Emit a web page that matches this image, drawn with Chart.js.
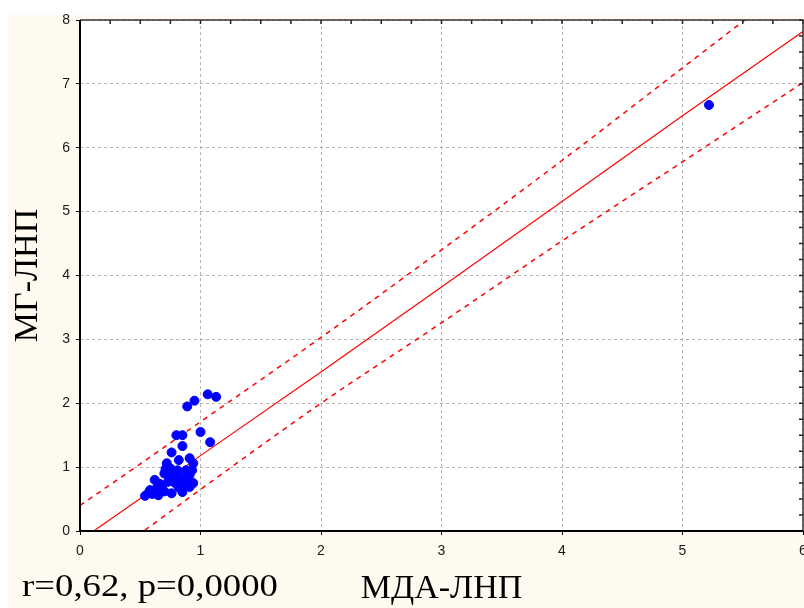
<!DOCTYPE html>
<html>
<head>
<meta charset="utf-8">
<script src="https://cdn.jsdelivr.net/npm/chart.js@4.4.0/dist/chart.umd.min.js"></script>
<style>
    html, body { margin: 0; padding: 0; background: #ffffff; overflow: hidden; }
    #wrap { width: 804px; height: 608px; position: relative; }
</style>
</head>
<body>
<div id="wrap"><canvas id="scatter-chart" width="804" height="608"></canvas></div>
<script>
// МДА-ЛНП (x) and МГ-ЛНП (y) for each case
const mdaValues = [1.06, 1.13, 0.95, 0.89, 1.00, 1.08, 0.80, 0.85, 0.85, 0.76,
                   0.82, 0.91, 0.94, 0.72, 0.81, 0.70, 0.62, 0.91, 0.94, 0.58,
                   0.65, 0.76, 0.85, 0.54, 0.91, 0.79, 0.73, 0.68, 0.85, 0.75,
                   0.78, 0.88, 0.66, 0.60, 0.70, 0.82, 0.89, 0.74, 0.80, 0.63,
                   0.93, 0.86, 0.71, 0.57, 5.22];
const mgValues  = [2.14, 2.10, 2.04, 1.95, 1.55, 1.39, 1.50, 1.50, 1.33, 1.23,
                   1.11, 1.14, 1.06, 1.06, 0.95, 0.90, 0.80, 0.88, 0.75, 0.64,
                   0.56, 0.59, 0.61, 0.55, 0.69, 0.75, 0.77, 0.69, 0.83, 0.98,
                   0.88, 0.95, 0.74, 0.58, 0.62, 0.68, 0.78, 0.84, 0.80, 0.66,
                   0.95, 0.72, 0.97, 0.60, 6.67];

// fitted line and 95% band
const fitX     = [0, 0.5, 1, 2, 3, 4, 5, 6];
const fitLine  = [-0.15, 0.51, 1.18, 2.49, 3.82, 5.16, 6.50, 7.82];
const bandHigh = [0.40, 1.05, 1.71, 3.03, 4.40, 5.80, 7.25, 8.70];
const bandLow  = [-0.72, -0.04, 0.65, 2.00, 3.26, 4.54, 5.78, 7.02];

const xTicks = [0, 1, 2, 3, 4, 5, 6];
const yTicks = [0, 1, 2, 3, 4, 5, 6, 7, 8];

const statText = "r=0,62, p=0,0000";
const xTitle = "МДА-ЛНП";
const yTitle = "МГ-ЛНП";

const toPoints = (xs, ys) => xs.map((x, i) => ({ x: x, y: ys[i] }));

const serif = "'Liberation Serif', 'Times New Roman', serif";
const sans = "'Liberation Sans', Arial, sans-serif";

// plot box runs right up to the edge of the picture, like the original
const stretchPlugin = {
    id: "stretch",
    afterLayout(chart) {
        const xs = chart.scales.x;
        const target = chart.width - 1;
        const dx = target - chart.chartArea.right;
        chart.chartArea.right = target;
        chart.chartArea.width += dx;
        xs.right = target;
        xs.width = xs.right - xs.left;
        xs.configure();
    }
};

const backgroundPlugin = {
    id: "background",
    beforeDraw(chart) {
        const ctx = chart.ctx;
        const a = chart.chartArea;
        ctx.save();
        ctx.fillStyle = "#ffffff";
        ctx.fillRect(0, 0, chart.width, chart.height);
        ctx.fillStyle = "#fffaf0";
        ctx.fillRect(8, 15, chart.width - 8, chart.height - 15);
        ctx.fillStyle = "#ffffff";
        ctx.fillRect(a.left, a.top, a.right - a.left, a.bottom - a.top);
        ctx.restore();
    }
};

const framePlugin = {
    id: "frame",
    afterDraw(chart) {
        const ctx = chart.ctx;
        const a = chart.chartArea;
        const xs = chart.scales.x;
        const ys = chart.scales.y;
        ctx.save();
        // minor ticks on top and right edges
        ctx.strokeStyle = "#222222";
        ctx.lineWidth = 1.5;
        ctx.beginPath();
        for (let v = 0; v <= 6; v += 0.25) {
            const px = xs.getPixelForValue(v);
            ctx.moveTo(px, a.top);
            ctx.lineTo(px, a.top + 4);
        }
        for (let v = 0; v <= 8; v += 0.25) {
            const py = ys.getPixelForValue(v);
            ctx.moveTo(a.right, py);
            ctx.lineTo(a.right - 4, py);
        }
        ctx.stroke();
        // top and right border
        ctx.strokeStyle = "#333333";
        ctx.lineWidth = 1.5;
        ctx.beginPath();
        ctx.moveTo(a.left, a.top);
        ctx.lineTo(a.right, a.top);
        ctx.lineTo(a.right, a.bottom);
        ctx.stroke();
        // left and bottom axis
        ctx.strokeStyle = "#000000";
        ctx.lineWidth = 2;
        ctx.beginPath();
        ctx.moveTo(a.left, a.top);
        ctx.lineTo(a.left, a.bottom);
        ctx.lineTo(a.right, a.bottom);
        ctx.stroke();
        // statistics note, a bit wide as in the original
        ctx.fillStyle = "#000000";
        ctx.font = "31px " + serif;
        ctx.textBaseline = "alphabetic";
        const w = ctx.measureText(statText).width;
        ctx.translate(22, 596);
        ctx.scale(256 / w, 1);
        ctx.fillText(statText, 0, 0);
        ctx.restore();
    }
};

const ctx = document.getElementById("scatter-chart").getContext("2d");
window.scatterChart = new Chart(ctx, {
    type: "scatter",
    data: {
        datasets: [
            {
                label: "cases",
                data: toPoints(mdaValues, mgValues),
                backgroundColor: "#0000ff",
                borderColor: "#0000ff",
                pointRadius: 4.5,
                pointHoverRadius: 4.5,
                order: 0
            },
            {
                label: "fit",
                data: toPoints(fitX, fitLine),
                showLine: true,
                borderColor: "#ff0000",
                borderWidth: 1.2,
                pointRadius: 0,
                order: 1
            },
            {
                label: "upper",
                data: toPoints(fitX, bandHigh),
                showLine: true,
                cubicInterpolationMode: "monotone",
                borderColor: "#ff0000",
                borderWidth: 1.5,
                borderDash: [5, 5],
                pointRadius: 0,
                order: 1
            },
            {
                label: "lower",
                data: toPoints(fitX, bandLow),
                showLine: true,
                cubicInterpolationMode: "monotone",
                borderColor: "#ff0000",
                borderWidth: 1.5,
                borderDash: [5, 5],
                pointRadius: 0,
                order: 1
            }
        ]
    },
    options: {
        responsive: false,
        animation: false,
        layout: {
            padding: { top: 20, right: 0, left: 0, bottom: 0 }
        },
        plugins: {
            legend: { display: false },
            tooltip: { enabled: false }
        },
        scales: {
            x: {
                type: "linear",
                min: 0,
                max: 6,
                afterFit(scale) { scale.height = 77; },
                afterBuildTicks(scale) { scale.ticks = xTicks.map(v => ({ value: v })); },
                ticks: {
                    color: "#1a1a1a",
                    font: { family: sans, size: 14 },
                    padding: 8
                },
                grid: {
                    color: "#b4b4b4",
                    lineWidth: 1,
                    tickLength: 4,
                    tickColor: "#000000"
                },
                border: { display: false, dash: [3, 3] },
                title: {
                    display: true,
                    text: xTitle,
                    color: "#000000",
                    font: { family: serif, size: 34, lineHeight: 1 },
                    padding: { top: 0, bottom: 2 }
                }
            },
            y: {
                type: "linear",
                min: 0,
                max: 8,
                afterFit(scale) { scale.width = 80; },
                afterBuildTicks(scale) { scale.ticks = yTicks.map(v => ({ value: v })); },
                ticks: {
                    color: "#1a1a1a",
                    font: { family: sans, size: 14 },
                    padding: 6
                },
                grid: {
                    color: "#b4b4b4",
                    lineWidth: 1,
                    tickLength: 4,
                    tickColor: "#000000"
                },
                border: { display: false, dash: [3, 3] },
                title: {
                    display: true,
                    text: yTitle,
                    color: "#000000",
                    font: { family: serif, size: 34, lineHeight: 1 },
                    padding: { top: 11, bottom: 0 }
                }
            }
        }
    },
    plugins: [stretchPlugin, backgroundPlugin, framePlugin]
});
</script>
</body>
</html>
